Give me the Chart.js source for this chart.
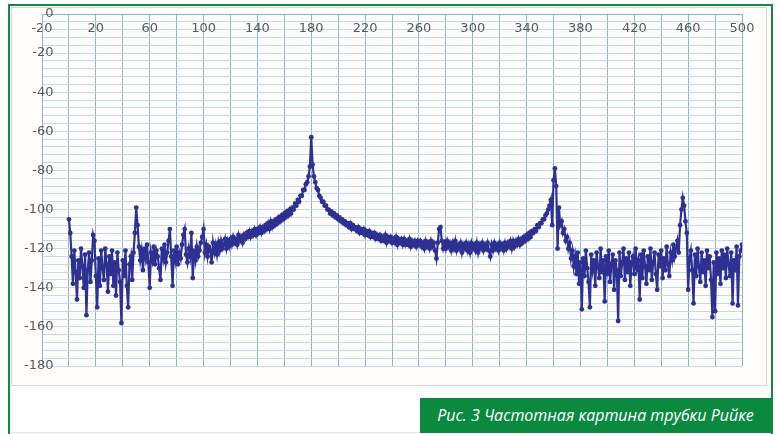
<!DOCTYPE html>
<html lang="ru">
<head>
<meta charset="utf-8">
<title>Частотная картина трубки Рийке</title>
<script src="https://cdn.jsdelivr.net/npm/chart.js@4.4.1/dist/chart.umd.min.js"></script>
<style>
  html, body { margin: 0; padding: 0; background: #fff; }
  body { width: 778px; height: 434px; position: relative; overflow: hidden; }
  .green-line { position: absolute; background: #14893f; }
  #panel {
    position: absolute; left: 11px; top: 7px; width: 756px; height: 379px;
    box-sizing: border-box; border: 1px solid #d6d6d6; background: #fffdfc;
  }
  #spectrum { position: absolute; left: 12px; top: 0; }
  #caption {
    position: absolute; left: 420px; top: 398px; width: 351px; height: 35px;
    background: #0b8a3f; color: #fff;
    font-family: "Open Sans", sans-serif; font-style: italic; font-size: 16px;
    line-height: 35px; text-align: center; white-space: nowrap;
  }
  #foot { position: absolute; left: 10px; top: 432px; width: 410px; height: 1px; background: #e4e4e4; }
</style>
</head>
<body>
  <div class="green-line" style="left:8px; top:4px; width:2px; height:430px;"></div>
  <div class="green-line" style="left:8px; top:4px; width:765px; height:2px;"></div>
  <div class="green-line" style="left:771px; top:4px; width:2px; height:430px;"></div>
  <div id="panel"></div>
  <canvas id="spectrum" width="754" height="385"></canvas>
  <div id="foot"></div>
  <div id="caption">Рис. 3 Частотная картина трубки Рийке</div>

<script>
// Axis settings
const X_MIN = -20;
const X_MAX = 500;
const X_GRID_STEP = 20;
const xTickLabels = [-20, 20, 60, 100, 140, 180, 220, 260, 300, 340, 380, 420, 460, 500];

const Y_MIN = -180;
const Y_MAX = 0;
const Y_GRID_STEP = 4;
const yTickLabels = [0, -20, -40, -60, -80, -100, -120, -140, -160, -180];

// Spectrum, one reading per Hz starting at 0 Hz (dB)
const FREQ_START = 0;
const FREQ_STEP = 1;
const levelDb = [
  -105, -112, -124, -138, -121, -132, -146, -126, -135, -120,
  -129, -140, -123, -154, -131, -122, -137, -126, -113, -116,
  -134, -150, -125, -139, -121, -130, -136, -120, -128, -142,
  -124, -133, -121, -139, -127, -144, -122, -131, -137, -158,
  -126, -134, -121, -139, -150, -128, -124, -136, -122, -112,
  -99, -108, -119, -126, -121, -131, -120, -125, -118, -127,
  -140, -122, -126, -119, -128, -121, -124, -130, -136, -120,
  -125, -118, -127, -122, -116, -110, -124, -139, -121, -126,
  -119, -128, -122, -125, -118, -113, -110, -123, -127, -120,
  -124, -112, -135, -121, -126, -119, -124, -121, -117, -114,
  -110, -122, -118, -124, -119, -121, -127, -117, -122, -118,
  -123, -117, -121, -116, -120, -118, -115, -120, -116, -119,
  -115, -118, -114, -117, -115, -118, -113, -116, -114, -117,
  -113, -115, -112, -114, -111, -114, -111, -113, -110, -113,
  -110, -112, -109, -112, -109, -111, -108, -110, -107, -110,
  -106, -109, -106, -108, -105, -107, -104, -106, -103, -105,
  -102, -104, -101, -103, -100, -102, -99, -100, -97, -98,
  -95, -96, -93, -93, -90, -90, -87, -86, -83, -78,
  -63, -77, -83, -86, -89, -90, -93, -94, -96, -96,
  -98, -98, -100, -100, -102, -101, -103, -102, -104, -103,
  -105, -104, -106, -105, -107, -106, -108, -107, -109, -107,
  -110, -108, -110, -109, -111, -109, -112, -110, -112, -110,
  -113, -111, -113, -111, -114, -112, -114, -112, -115, -113,
  -115, -113, -116, -114, -116, -113, -117, -114, -116, -114,
  -117, -115, -117, -114, -118, -115, -117, -115, -118, -115,
  -118, -116, -118, -115, -119, -116, -118, -116, -119, -116,
  -118, -116, -119, -117, -120, -116, -119, -117, -120, -116,
  -119, -117, -121, -125, -117, -110, -109, -116, -120, -117,
  -120, -116, -119, -117, -121, -117, -120, -116, -121, -118,
  -120, -117, -122, -118, -120, -117, -121, -118, -122, -117,
  -120, -118, -121, -117, -122, -118, -120, -117, -121, -118,
  -120, -117, -121, -124, -118, -121, -117, -120, -118, -121,
  -117, -120, -118, -121, -117, -120, -117, -119, -116, -120,
  -116, -119, -116, -118, -115, -118, -115, -117, -114, -116,
  -113, -115, -112, -114, -111, -112, -110, -111, -108, -109,
  -107, -107, -105, -105, -103, -102, -100, -98, -95, -108,
  -85, -79, -88, -120, -99, -108, -106, -112, -110, -116,
  -114, -120, -117, -125, -121, -129, -124, -133, -122, -138,
  -127, -151, -125, -134, -121, -130, -137, -150, -123, -131,
  -126, -139, -122, -129, -135, -120, -132, -126, -147, -124,
  -133, -121, -137, -128, -123, -141, -126, -131, -157, -122,
  -134, -127, -120, -136, -125, -132, -122, -139, -127, -124,
  -133, -120, -130, -126, -146, -123, -135, -121, -129, -138,
  -124, -131, -120, -136, -127, -122, -133, -141, -123, -129,
  -121, -135, -125, -131, -119, -128, -134, -122, -126, -118,
  -124, -120, -116, -122, -108, -100, -94, -98, -106, -112,
  -141, -125, -121, -131, -148, -123, -134, -120, -129, -137,
  -122, -132, -126, -139, -121, -130, -124, -136, -155, -127,
  -152, -122, -133, -125, -138, -121, -130, -123, -135, -120,
  -128, -134, -122, -148, -126, -131, -119, -149, -124, -121,
  -118
];

document.addEventListener('DOMContentLoaded', () => {
  const ctx = document.getElementById('spectrum');

  const points = levelDb.map((db, i) => ({ x: FREQ_START + i * FREQ_STEP, y: db }));

  const traceColor = '#2e3192';
  const tickFont = { family: 'DejaVu Sans', size: 13 };

  new Chart(ctx, {
    type: 'line',
    data: {
      datasets: [{
        data: points,
        borderColor: traceColor,
        backgroundColor: traceColor,
        borderWidth: 2.2,
        pointRadius: 2.4,
        pointBorderWidth: 0,
        tension: 0,
        fill: false
      }]
    },
    options: {
      responsive: false,
      animation: false,
      layout: { padding: { left: 0, top: 0, right: 24, bottom: 19 } },
      plugins: {
        legend: { display: false },
        tooltip: { enabled: false }
      },
      scales: {
        x: {
          type: 'linear',
          position: 'top',
          min: X_MIN,
          max: X_MAX,
          afterBuildTicks: (scale) => {
            const ticks = [];
            for (let v = X_MIN; v <= X_MAX; v += X_GRID_STEP) ticks.push({ value: v });
            scale.ticks = ticks;
          },
          afterFit: (scale) => { scale.height = 14; },
          ticks: {
            autoSkip: false,
            maxRotation: 0,
            mirror: true,     // labels sit inside the plot, under the 0 dB line
            padding: 7,
            color: '#5a5a5a',
            font: tickFont,
            callback: (value) => xTickLabels.includes(value) ? String(value) : ''
          },
          grid: { color: '#8fb4c7', lineWidth: 1, drawTicks: false },
          border: { display: true, color: '#8fb4c7' }
        },
        y: {
          type: 'linear',
          min: Y_MIN,
          max: Y_MAX,
          afterBuildTicks: (scale) => {
            const ticks = [];
            for (let v = Y_MIN; v <= Y_MAX; v += Y_GRID_STEP) ticks.push({ value: v });
            scale.ticks = ticks;
          },
          afterFit: (scale) => { scale.width = 30; },
          ticks: {
            autoSkip: false,
            mirror: true,
            crossAlign: 'far',
            padding: -18,
            color: '#5a5a5a',
            font: tickFont,
            callback: (value) => yTickLabels.includes(value) ? String(value) : ''
          },
          grid: { color: '#c0dbea', lineWidth: 1, drawTicks: false },
          border: { display: true, color: '#8fb4c7' }
        }
      }
    }
  });
});
</script>
</body>
</html>
